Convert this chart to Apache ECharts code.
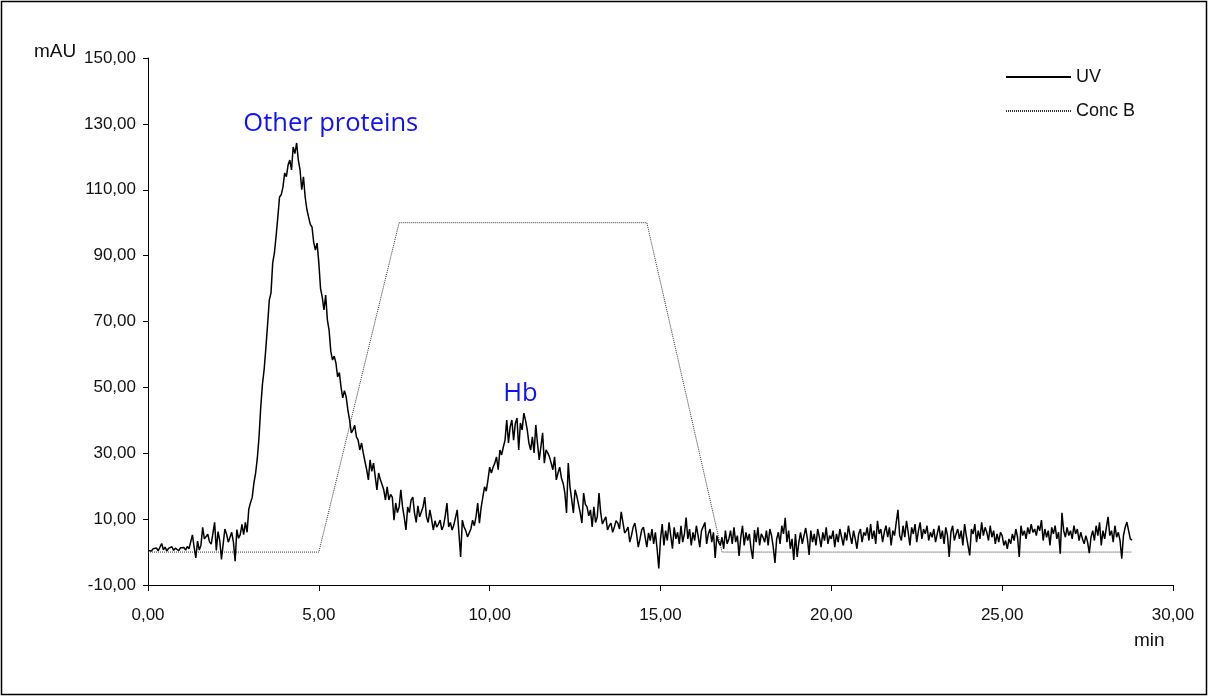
<!DOCTYPE html>
<html>
<head>
<meta charset="utf-8">
<title>Chromatogram</title>
<script src="https://cdn.jsdelivr.net/npm/echarts@6.0.0/dist/echarts.min.js"></script>
<style>
  html, body { margin: 0; padding: 0; background: #fff; }
  #chart { width: 1209px; height: 697px; }
</style>
</head>
<body>
<div id="chart"></div>
<script>
// UV absorbance (mAU), one reading every uvSampleStep minutes starting at 0 min
const uvSampleStep = 0.05;
const uvTrace = [
  // 0–1 min
  0.5,0.8,0.3,1.0,0.6,1.2,0.4,0.9,2.6,0.7,1.5,0.3,1.1,0.8,1.6,0.5,1.2,0.9,0.4,1.3,
  // 1–2 min
  0.8,1.4,0.6,1.7,1.0,0.4,5.2,1.5,-1.8,3.3,0.6,2.1,7.5,4.0,4.5,5.4,3.1,2.4,1.8,9.0,
  // 2–3 min
  0.5,6.2,3.5,-2.2,2.4,7.0,5.4,3.0,4.5,6.0,3.0,-2.8,6.8,4.2,5.3,8.4,5.3,9.0,6.0,13.0,
  // 3–4 min
  15.0,16.6,21.0,24.0,28.5,35.0,44.0,51.0,55.5,62.0,69.0,76.5,78.7,87.8,90.8,96.0,101.7,107.8,108.5,110.8,
  // 4–5 min
  115.1,114.0,117.5,119.0,116.0,123.0,121.0,124.2,119.0,116.0,110.0,113.9,107.8,104.0,101.7,99.5,98.7,94.0,91.7,93.8,
  // 5–6 min
  87.8,80.0,77.4,73.5,78.0,70.5,67.4,61.0,58.3,59.5,57.4,53.2,54.5,50.1,46.8,49.0,47.1,43.1,40.1,36.2,
  // 6–7 min
  37.1,38.5,35.0,34.0,31.0,33.1,30.1,27.5,25.0,21.9,28.0,24.5,27.0,23.0,18.9,24.0,22.0,20.5,18.9,15.8,
  // 7–8 min
  19.8,15.8,17.5,16.7,9.7,14.9,12.0,13.7,18.9,13.7,10.5,6.7,13.7,12.0,15.8,16.7,11.9,9.0,14.0,10.7,
  // 8–9 min
  11.0,13.7,16.7,10.7,9.0,12.8,10.0,6.7,9.5,7.6,8.5,9.7,6.7,8.0,11.0,14.9,7.6,9.0,6.7,8.2,
  // 9–10 min
  7.6,12.8,5.8,-1.5,9.7,7.6,6.5,4.6,4.6,7.0,9.7,8.0,10.7,14.9,8.8,13.5,16.7,19.8,18.5,21.9,
  // 10–11 min
  25.8,24.0,25.8,27.0,28.9,25.0,31.0,29.5,31.9,34.0,40.1,33.1,38.0,40.1,34.0,39.0,40.7,31.0,39.2,37.1,
  // 11–12 min
  42.2,40.0,37.1,33.0,31.0,35.0,30.1,38.6,33.0,28.0,32.0,36.2,27.0,31.0,30.1,28.9,27.0,25.0,28.9,21.9,
  // 12–13 min
  24.0,25.8,22.5,20.9,18.0,11.9,27.0,19.8,16.0,11.9,18.9,17.0,16.7,12.0,8.8,17.9,14.5,13.7,11.0,12.8,
  // 13–14 min
  7.6,13.7,9.0,10.7,17.9,11.9,8.5,9.7,10.7,6.7,8.0,8.8,6.0,7.6,9.5,8.8,7.0,12.2,9.0,5.8,
  // 14–15 min
  6.5,7.6,3.0,5.0,7.6,8.8,5.5,1.5,4.0,6.7,7.6,4.5,1.5,5.8,3.5,7.0,2.5,6.0,1.0,-5.0,
  // 15–16 min
  4.0,8.5,2.0,6.5,3.5,9.0,5.0,1.0,7.5,4.0,6.0,2.5,8.0,3.0,5.5,10.5,4.0,7.0,2.0,6.0,
  // 16–17 min
  3.5,8.0,5.0,1.5,6.5,7.0,9.0,2.5,5.5,7.0,3.0,6.0,-1.8,5.0,3.0,2.0,4.5,1.0,6.5,2.5,
  // 17–18 min
  4.0,6.5,2.5,7.5,3.0,5.0,-1.2,4.5,8.0,2.0,6.0,3.5,5.5,1.0,-2.1,6.7,3.0,7.5,2.0,5.5,
  // 18–19 min
  4.5,3.0,6.5,2.0,7.0,5.0,1.5,-3.3,4.0,6.0,2.5,8.0,5.5,10.4,3.0,6.5,1.0,4.0,-2.4,5.5,
  // 19–20 min
  -1.5,3.0,6.0,2.5,5.0,7.3,4.0,-0.9,6.5,3.0,5.5,2.0,7.0,4.5,1.5,6.0,3.5,7.5,2.5,5.0,
  // 20–21 min
  4.0,6.5,1.5,5.5,3.0,7.0,4.5,2.0,6.0,3.5,8.0,5.0,2.5,6.5,4.0,1.0,5.5,7.0,3.0,6.0,
  // 21–22 min
  5.0,7.5,3.5,8.5,4.0,6.5,2.5,9.5,5.5,7.0,3.0,6.0,8.0,4.5,7.5,2.0,6.5,5.0,9.0,12.8,
  // 22–23 min
  5.0,3.5,8.0,4.5,9.5,6.0,2.0,7.5,5.5,8.5,3.0,6.5,9.0,4.0,7.0,5.5,8.0,3.5,6.0,4.5,
  // 23–24 min
  7.0,3.0,5.5,8.0,4.0,6.5,2.5,7.5,5.0,-1.5,6.0,8.0,3.5,5.5,7.0,4.0,6.5,2.0,8.5,5.0,
  // 24–25 min
  4.5,-1.0,7.0,5.5,8.5,3.0,6.5,4.0,9.0,5.0,7.5,6.0,3.5,8.0,4.5,6.5,2.5,5.5,3.0,6.0,
  // 25–26 min
  5.0,2.0,3.5,1.0,4.0,2.5,5.5,3.5,7.0,4.5,-1.5,8.0,5.0,6.5,4.0,7.5,5.5,8.5,6.0,7.0,
  // 26–27 min
  5.0,8.0,6.5,9.7,3.5,7.0,4.5,6.5,2.0,7.5,5.5,8.0,4.0,6.0,-0.5,11.9,6.5,4.5,7.5,5.0,
  // 27–28 min
  6.5,4.0,8.0,5.5,7.0,3.5,6.0,4.0,2.5,5.0,3.0,-0.3,4.5,6.5,3.5,8.0,5.0,9.0,2.0,6.5,
  // 28–28.8 min
  4.0,7.5,10.7,5.0,6.5,3.0,8.0,4.5,6.0,3.5,-2.0,5.0,7.5,9.1,8.5,4.0,3.6
];

// Gradient programme: concentration of buffer B (%) at each breakpoint (min)
const concBTimes  = [0, 5.0, 7.35, 14.6, 16.8, 28.78];
const concBValues = [0, 0, 100, 100, 0, 0];

// Peak annotations (label text, time in min, height in mAU)
const peakNames   = ['Other proteins', 'Hb'];
const peakTimes   = [5.35, 10.9];
const peakHeights = [130, 48];

// Axis ranges and tick spacing
const xRange = [0, 30], xStep = 5;
const yRange = [-10, 150], yStep = 20;

const fmt = v => v.toFixed(2).replace('.', ',');

const uvPoints = uvTrace.map((v, i) => [+(i * uvSampleStep).toFixed(2), v]);
const concPoints = concBTimes.map((t, i) => [t, concBValues[i]]);

const labelFont = 'Liberation Sans, Arial, sans-serif';

const chart = echarts.init(document.getElementById('chart'), null, { renderer: 'canvas' });
chart.setOption({
  animation: false,
  backgroundColor: '#ffffff',
  grid: { left: 148, right: 36, top: 58, bottom: 112, containLabel: false },
  legend: {
    data: ['UV', 'Conc B'],
    orient: 'vertical',
    left: 1005,
    top: 68,
    padding: 0,
    itemWidth: 65,
    itemHeight: 10,
    itemGap: 16,
    itemStyle: { opacity: 0 },
    textStyle: { fontFamily: labelFont, fontSize: 18, color: '#111' }
  },
  xAxis: {
    type: 'value',
    min: xRange[0], max: xRange[1], interval: xStep,
    axisLine: { onZero: false, lineStyle: { color: '#000', width: 1 } },
    axisTick: { show: true, length: 6, lineStyle: { color: '#000' } },
    axisLabel: { formatter: fmt, margin: 22, fontFamily: labelFont, fontSize: 17, color: '#111' },
    splitLine: { show: false }
  },
  yAxis: {
    type: 'value',
    min: yRange[0], max: yRange[1], interval: yStep,
    axisLine: { show: true, lineStyle: { color: '#000', width: 1 } },
    axisTick: { show: true, length: 5, lineStyle: { color: '#000' } },
    axisLabel: { formatter: fmt, margin: 12, fontFamily: labelFont, fontSize: 17, color: '#111' },
    splitLine: { show: false }
  },
  graphic: [
    { type: 'rect', silent: true, shape: { x: 1.5, y: 1.5, width: 1205, height: 693 },
      style: { fill: 'none', stroke: '#000', lineWidth: 1.5 } },
    { type: 'text', left: 34, top: 42,
      style: { text: 'mAU', font: '19px ' + labelFont, fill: '#111' } },
    { type: 'text', left: 1134, top: 631,
      style: { text: 'min', font: '19px ' + labelFont, fill: '#111' } }
  ],
  series: [
    {
      name: 'UV',
      type: 'line',
      data: uvPoints,
      symbol: 'none',
      lineStyle: { color: '#000', width: 1.5 },
      itemStyle: { color: '#000' },
      z: 3,
      markPoint: {
        symbol: 'circle',
        symbolSize: 1,
        itemStyle: { color: 'rgba(0,0,0,0)', opacity: 1 },
        label: {
          show: true,
          position: 'inside',
          formatter: '{b}',
          color: '#1010ff',
          fontFamily: 'Open Sans, sans-serif',
          fontSize: 25.5
        },
        data: peakNames.map((n, i) => ({ name: n, coord: [peakTimes[i], peakHeights[i]] }))
      }
    },
    {
      name: 'Conc B',
      type: 'line',
      data: concPoints,
      symbol: 'none',
      lineStyle: { color: '#333', width: 1, type: [1, 1] },
      itemStyle: { color: '#333' },
      z: 2
    }
  ]
});
</script>
</body>
</html>
